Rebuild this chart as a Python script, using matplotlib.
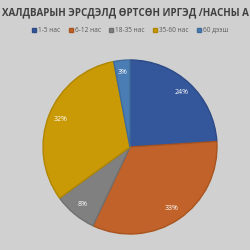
import matplotlib
matplotlib.use('Agg')
import matplotlib.pyplot as plt

labels = ['1-5 нас', '6-12 нас', '18-35 нас', '35-60 нас', '60 дээш']
values = [24, 33, 8, 32, 3]
colors = ['#34569a', '#c0622a', '#808080', '#c99a06', '#4a7db3']
edges = ['#2c4a86', '#a9541f', '#707070', '#b08600', '#3f6c9c']
title = 'ХАЛДВАРЫН ЭРСДЭЛД ӨРТСӨН ИРГЭД /НАСНЫ А'

BG = '#d0d0d0'
fig = plt.figure(figsize=(2.5, 2.5), dpi=100)
fig.patch.set_facecolor(BG)

fig.text(0.5, 0.948, title, ha='center', va='center', fontsize=7.0,
         fontweight='bold', color='#404040', family='Open Sans')

R = 87
ax = fig.add_axes([(130 - R)/250, 1 - (147 + R)/250, 2*R/250, 2*R/250])
ax.set_facecolor(BG)
wedges, texts, autotexts = ax.pie(values, colors=colors, startangle=90, counterclock=False,
                                  autopct='%1.0f%%', pctdistance=0.86,
                                  wedgeprops=dict(linewidth=1.0),
                                  textprops=dict(color='white', fontsize=5, family='Open Sans'))
for w, e in zip(wedges, edges):
    w.set_edgecolor(e)
ax.set_xlim(-1, 1)
ax.set_ylim(-1, 1)
ax.set_aspect('equal')

leg = fig.legend(wedges, labels, loc='center', bbox_to_anchor=(0.52, 0.878), ncol=5,
                 frameon=False, handlelength=0.6, handleheight=0.6,
                 handletextpad=0.3, columnspacing=1.3, prop=dict(family='Open Sans', size=4.7))
for t in leg.get_texts():
    t.set_color('#595959')

plt.savefig('out.png', dpi=100, facecolor=BG)
